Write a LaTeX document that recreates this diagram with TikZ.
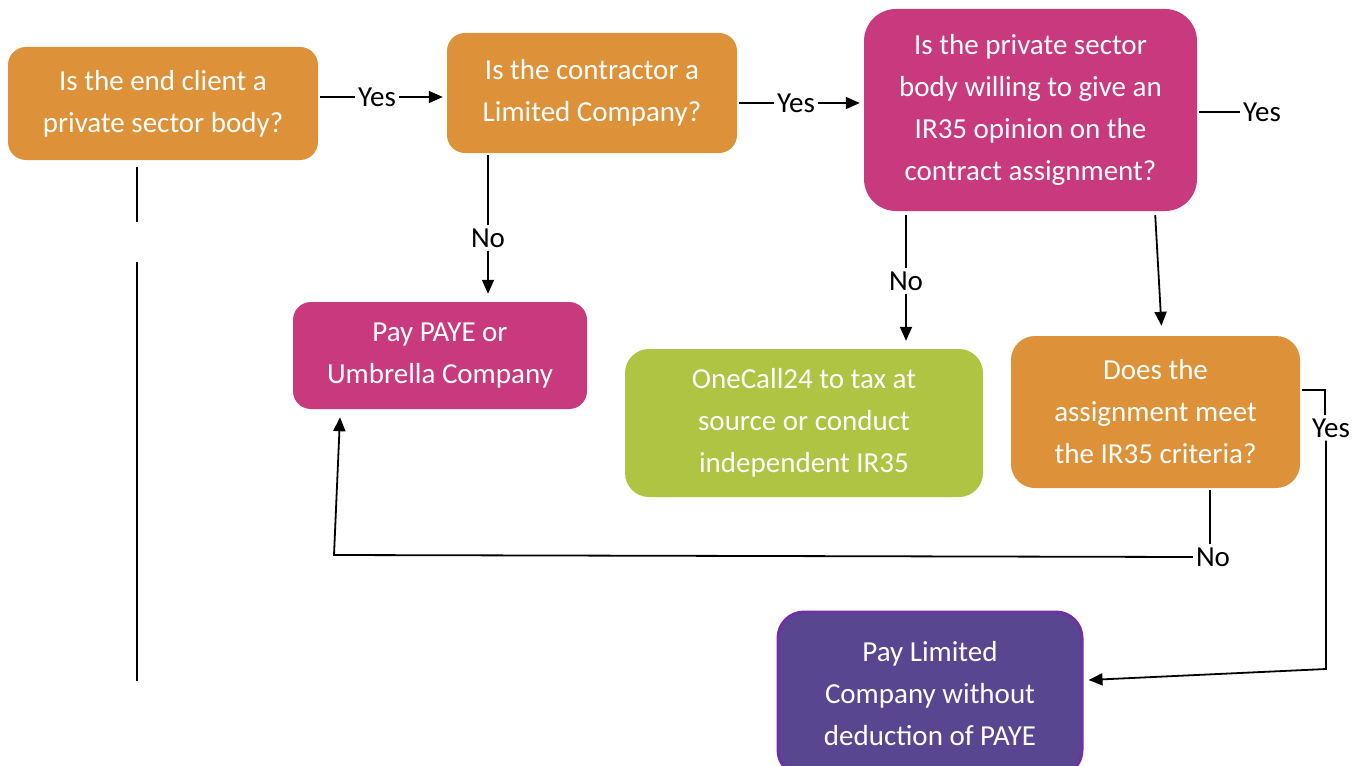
\documentclass[tikz,border=0pt]{standalone}
\usepackage{fontspec}
\setmainfont{Carlito}
\usetikzlibrary{arrows.meta}
\definecolor{qorange}{RGB}{221,145,56}
\definecolor{qpink}{RGB}{200,57,125}
\definecolor{qgreen}{RGB}{175,196,67}
\definecolor{qpurple}{RGB}{89,70,145}
\definecolor{qedge}{RGB}{112,48,160}

\begin{document}
\begin{tikzpicture}[
  x=1pt, y=-1pt,
  font=\fontsize{29}{42}\selectfont,
  ask/.style={fill=qorange,text=white,align=center,inner sep=2pt,rounded corners=18pt},
  pay/.style={fill=qpink,text=white,align=center,inner sep=2pt,rounded corners=18pt},
  ext/.style={fill=qgreen,text=white,align=center,inner sep=2pt,rounded corners=24pt},
  fin/.style={fill=qpurple,draw=qedge,line width=3pt,text=white,align=center,inner sep=2pt,rounded corners=26pt},
  lbl/.style={inner sep=3pt},
  ln/.style={line width=1.8pt},
  ar/.style={-{Triangle[length=14pt,width=12pt]},line width=1.8pt}
]
\useasboundingbox (0,0) rectangle (1364,765);

\node[ask,minimum width=310pt,minimum height=113pt] (client) at (163,103.5) {Is the end client a\\private sector body?};
\node[ask,minimum width=290pt,minimum height=120pt] (ltd) at (592,93) {Is the contractor a\\Limited Company?};
\node[pay,rounded corners=32pt,minimum width=333pt,minimum height=202pt] (opinion) at (1030.5,110) {Is the private sector\\body willing to give an\\IR35 opinion on the\\contract assignment?};
\node[pay,minimum width=294pt,minimum height=107pt] (paye) at (440,355.5) {Pay PAYE or\\Umbrella Company};
\node[ext,minimum width=358pt,minimum height=148pt] (onecall) at (804,423) {OneCall24 to tax at\\source or conduct\\independent IR35};
\node[ask,rounded corners=24pt,minimum width=289pt,minimum height=152pt] (criteria) at (1155.5,412) {Does the\\assignment meet\\the IR35 criteria?};
\node[fin,minimum width=304pt,minimum height=164pt] (payltd) at (930,694) {Pay Limited\\Company without\\deduction of PAYE};

\node[lbl] (y1) at (377,97) {Yes};
\node[lbl] (y2) at (796,103) {Yes};
\node[lbl] (y3) at (1262,112) {Yes};
\node[lbl] (y4) at (1331,428) {Yes};
\node[lbl] (n1) at (488,238) {No};
\node[lbl] (n2) at (906,281) {No};
\node[lbl] (n3) at (1213,557) {No};

\coordinate (gapT) at (137,222);
\coordinate (gapB) at (137,262);
\coordinate (cEnd) at (137,681);
\coordinate (bendY) at (1326,669);
\coordinate (bendN) at (334,555);

% top row
\draw[ln,shorten <=2pt] (client.east |- y1) -- (y1);
\draw[ar,shorten >=4pt] (y1) -- (ltd.west |- y1);
\draw[ln,shorten <=2pt] (ltd.east |- y2) -- (y2);
\draw[ar,shorten >=4pt] (y2) -- (opinion.west |- y2);
\draw[ln,shorten <=2pt] (opinion.east |- y3) -- (y3);

% client line
\draw[ln] ([xshift=-26pt,yshift=-7pt]client.south) -- (gapT);
\draw[ln] (gapB) -- (cEnd);

% no branches
\draw[ln,shorten <=2pt] (n1 |- ltd.south) -- (n1);
\draw[ar,shorten >=8pt] (n1) -- (n1 |- paye.north);
\draw[ln,shorten <=4pt] (n2 |- opinion.south) -- (n2);
\draw[ar,shorten >=8pt] (n2) -- (n2 |- onecall.north);
\draw[ar,shorten <=4pt,shorten >=10pt] ([xshift=124.5pt]opinion.south) -- ([xshift=6.5pt]criteria.north);

% criteria outcomes
\draw[ln,shorten <=2pt] ([yshift=22pt]criteria.east) -| ([xshift=-6pt]y4.north);
\draw[ar] ([xshift=-5pt]y4.south) -- (bendY) -- ([xshift=5pt,yshift=14pt]payltd.east);
\draw[ln,shorten <=2pt] ([xshift=-3pt]n3 |- criteria.south) -- ([xshift=-3pt]n3.north);
\draw[ar] (n3.west) -- (bendN) -- ([xshift=-100pt,yshift=-8pt]paye.south);
\end{tikzpicture}
\end{document}
